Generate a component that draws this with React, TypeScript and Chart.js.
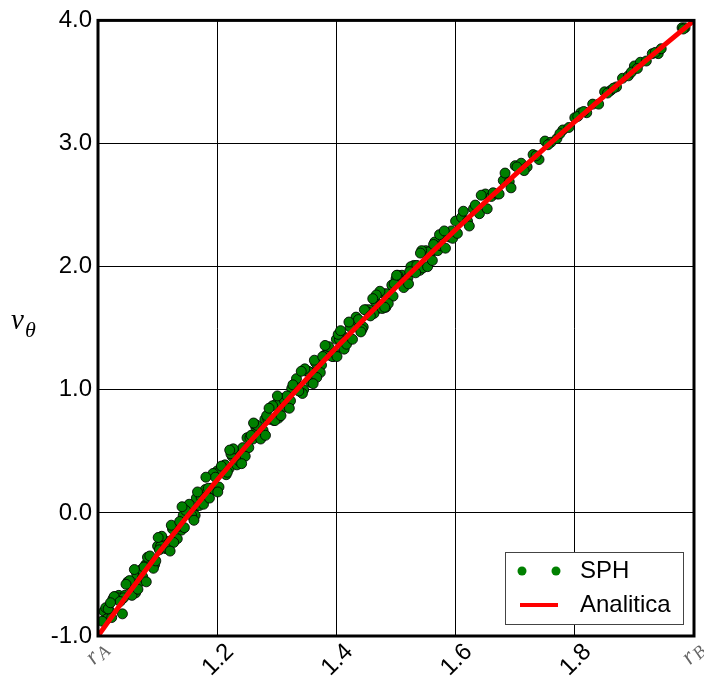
import React, { useEffect, useRef } from "react";
import { Chart, registerables } from "chart.js";

Chart.register(...registerables);

// Analytic solution samples (r, v_theta)
const analyticR = [1.0, 1.05, 1.1, 1.15, 1.2, 1.25, 1.3, 1.35, 1.4, 1.45, 1.5, 1.55, 1.6, 1.65, 1.7, 1.75, 1.8, 1.85, 1.9, 1.95, 2.0];
const analyticV = [-1.0, -0.66, -0.336, -0.028, 0.267, 0.55, 0.823, 1.087, 1.343, 1.591, 1.833, 2.069, 2.3, 2.526, 2.747, 2.964, 3.178, 3.388, 3.595, 3.799, 4.0];

// SPH particles (r, v_theta)
const sphR = [
  1.01, 1.02, 1.03, 1.04, 1.05, 1.06, 1.07, 1.08, 1.09, 1.1,
  1.11, 1.12, 1.13, 1.14, 1.15, 1.16, 1.17, 1.18, 1.19, 1.2,
  1.21, 1.22, 1.23, 1.24, 1.25, 1.26, 1.27, 1.28, 1.29, 1.3,
  1.31, 1.32, 1.33, 1.34, 1.35, 1.36, 1.37, 1.38, 1.39, 1.4,
  1.41, 1.42, 1.43, 1.44, 1.45, 1.46, 1.47, 1.48, 1.49, 1.5,
  1.51, 1.52, 1.53, 1.54, 1.55, 1.56, 1.57, 1.58, 1.59, 1.6,
  1.61, 1.62, 1.63, 1.64, 1.65, 1.66, 1.67, 1.68, 1.69, 1.7,
  1.71, 1.72, 1.73, 1.74, 1.75, 1.76, 1.77, 1.78, 1.79, 1.8,
  1.81, 1.82, 1.83, 1.84, 1.85, 1.86, 1.87, 1.88, 1.89, 1.9,
  1.91, 1.92, 1.93, 1.94, 1.98, 1.985,
  1.015, 1.025, 1.035, 1.045, 1.055, 1.065, 1.075, 1.085, 1.095, 1.105,
  1.115, 1.125, 1.135, 1.145, 1.155, 1.165, 1.175, 1.185, 1.195, 1.205,
  1.215, 1.225, 1.235, 1.245, 1.255, 1.265, 1.275, 1.285, 1.295, 1.305,
  1.315, 1.325, 1.335, 1.345, 1.355, 1.365, 1.375, 1.385, 1.395, 1.405,
  1.415, 1.425, 1.435, 1.445, 1.455, 1.465, 1.475, 1.485, 1.495, 1.505,
  1.515, 1.525, 1.535, 1.545, 1.555, 1.565, 1.575, 1.585, 1.595,
  1.013, 1.023, 1.033, 1.043, 1.053, 1.063, 1.073, 1.083, 1.093, 1.103,
  1.113, 1.123, 1.133, 1.143, 1.153, 1.163, 1.173, 1.183, 1.193, 1.203,
  1.213, 1.223, 1.233, 1.243, 1.253, 1.263, 1.273, 1.283, 1.293, 1.303,
  1.313, 1.323, 1.333, 1.343, 1.353, 1.363, 1.373, 1.383, 1.393, 1.403,
  1.413, 1.423, 1.433, 1.443, 1.453, 1.463, 1.473, 1.483, 1.493, 1.503,
  1.513, 1.523, 1.533, 1.543, 1.553, 1.563, 1.573, 1.583, 1.593, 1.603,
  1.613, 1.623, 1.633, 1.643, 1.653, 1.663, 1.673, 1.683, 1.693, 1.703,
  1.007, 1.017, 1.027, 1.037, 1.047, 1.057, 1.067, 1.077, 1.087, 1.097,
  1.107, 1.117, 1.127, 1.137, 1.147, 1.157, 1.167, 1.177, 1.187, 1.197,
  1.207, 1.217, 1.227, 1.237, 1.247, 1.257, 1.267, 1.277, 1.287, 1.297,
  1.307, 1.317, 1.327, 1.337, 1.347, 1.357, 1.367, 1.377, 1.387, 1.397,
  1.407, 1.417, 1.427, 1.437, 1.447, 1.457, 1.467, 1.477, 1.487, 1.497,
  1.715, 1.735, 1.755, 1.775, 1.805, 1.815, 1.855, 1.865, 1.895, 1.905,
  1.935, 1.945, 1.982,
  1.021, 1.041, 1.061, 1.081, 1.101, 1.121, 1.141, 1.161, 1.181, 1.201,
  1.221, 1.241, 1.261, 1.281, 1.301, 1.321, 1.341, 1.361, 1.381, 1.401,
  1.421, 1.441, 1.461, 1.481, 1.501, 1.521, 1.541, 1.561, 1.581,
];
const sphV = [
  -0.8, -0.8, -0.68, -0.7, -0.56, -0.59, -0.56, -0.42, -0.41, -0.27,
  -0.22, -0.23, -0.12, -0.14, 0.03, 0.03, 0.06, 0.19, 0.2, 0.34,
  0.37, 0.36, 0.47, 0.44, 0.61, 0.6, 0.63, 0.76, 0.76, 0.89,
  0.93, 0.91, 1.01, 0.99, 1.15, 1.14, 1.16, 1.28, 1.28, 1.41,
  1.44, 1.42, 1.52, 1.49, 1.65, 1.64, 1.66, 1.78, 1.78, 1.9,
  1.93, 1.91, 2.01, 1.97, 2.13, 2.12, 2.13, 2.25, 2.24, 2.37,
  2.4, 2.37, 2.47, 2.43, 2.59, 2.57, 2.59, 2.7, 2.69, 2.82,
  2.84, 2.81, 2.91, 2.87, 3.02, 3.01, 3.04, 3.11, 3.13, 3.21,
  3.25, 3.25, 3.32, 3.32, 3.42, 3.43, 3.46, 3.53, 3.55, 3.63,
  3.66, 3.67, 3.73, 3.73, 3.94, 3.94,
  -0.86, -0.7, -0.67, -0.67, -0.6, -0.5, -0.52, -0.41, -0.42, -0.27,
  -0.28, -0.13, -0.11, -0.12, 0.03, 0.12, 0.1, 0.2, 0.19, 0.34,
  0.31, 0.46, 0.48, 0.46, 0.61, 0.69, 0.67, 0.76, 0.75, 0.89,
  0.86, 1.01, 1.02, 1.0, 1.14, 1.22, 1.2, 1.29, 1.27, 1.41,
  1.38, 1.52, 1.53, 1.51, 1.65, 1.72, 1.69, 1.78, 1.76, 1.9,
  1.86, 2.0, 2.01, 1.99, 2.12, 2.2, 2.17, 2.25, 2.23,
  -0.77, -0.85, -0.69, -0.69, -0.55, -0.65, -0.46, -0.36, -0.45, -0.3,
  -0.29, -0.1, -0.21, -0.02, 0.07, -0.02, 0.13, 0.13, 0.32, 0.21,
  0.39, 0.48, 0.39, 0.53, 0.53, 0.72, 0.6, 0.79, 0.87, 0.77,
  0.91, 0.91, 1.09, 0.97, 1.15, 1.24, 1.14, 1.28, 1.27, 1.45,
  1.33, 1.51, 1.59, 1.49, 1.63, 1.62, 1.8, 1.67, 1.85, 1.93,
  1.83, 1.96, 1.95, 2.13, 2.0, 2.18, 2.26, 2.15, 2.29, 2.27,
  2.45, 2.33, 2.5, 2.58, 2.47, 2.6, 2.59, 2.76, 2.64, 2.81,
  -0.88, -0.78, -0.68, -0.72, -0.58, -0.67, -0.62, -0.44, -0.35, -0.39,
  -0.19, -0.29, -0.24, -0.07, 0.02, -0.02, 0.17, 0.07, 0.12, 0.29,
  0.38, 0.33, 0.52, 0.42, 0.46, 0.63, 0.71, 0.67, 0.85, 0.75,
  0.79, 0.95, 1.04, 0.99, 1.17, 1.06, 1.1, 1.27, 1.35, 1.3,
  1.48, 1.37, 1.41, 1.57, 1.65, 1.6, 1.77, 1.66, 1.7, 1.86,
  2.78, 2.9, 2.99, 3.08, 3.22, 3.26, 3.41, 3.45, 3.58, 3.61,
  3.74, 3.77, 3.93,
  -0.73, -0.82, -0.46, -0.56, -0.2, -0.31, 0.05, -0.06, 0.29, 0.17,
  0.51, 0.4, 0.73, 0.63, 0.95, 0.85, 1.15, 1.05, 1.36, 1.27,
  1.55, 1.47, 1.74, 1.67, 1.93, 1.86, 2.11, 2.05, 2.29,
];

const xTickValues = [1.0, 1.2, 1.4, 1.6, 1.8, 2.0];
const xTickLabels = ["r_A", "1.2", "1.4", "1.6", "1.8", "r_B"];
const legendLabels = ["SPH", "Analitica"];

const SANS = "'Liberation Sans', Arial, sans-serif";
const SERIF = "'Liberation Serif', 'DejaVu Serif', serif";

const decorPlugin = {
  id: "decor",
  afterDraw(chart: any) {
    const { ctx, chartArea } = chart;
    const xs = chart.scales.x;
    ctx.save();
    // frame
    ctx.strokeStyle = "#000";
    ctx.lineWidth = 3;
    ctx.strokeRect(chartArea.left, chartArea.top, chartArea.right - chartArea.left, chartArea.bottom - chartArea.top);

    // x tick labels rotated 45deg
    xTickValues.forEach((v, i) => {
      const px = xs.getPixelForValue(v);
      const lbl = xTickLabels[i];
      ctx.save();
      if (lbl.startsWith("r_")) {
        ctx.translate(px - 1, chartArea.bottom + 18);
        ctx.rotate(-Math.PI / 4);
        ctx.fillStyle = "#666";
        ctx.textBaseline = "alphabetic";
        ctx.font = `italic 24px ${SERIF}`;
        const wr = ctx.measureText("r").width;
        ctx.font = `italic 18px ${SERIF}`;
        const ws = ctx.measureText(lbl.slice(2)).width;
        const total = wr + ws;
        ctx.font = `italic 24px ${SERIF}`;
        ctx.textAlign = "left";
        ctx.fillText("r", -total / 2, 6);
        ctx.font = `italic 18px ${SERIF}`;
        ctx.fillText(lbl.slice(2), -total / 2 + wr + 1, 9);
      } else {
        ctx.translate(px + 1, chartArea.bottom + 24);
        ctx.rotate(-Math.PI / 4);
        ctx.fillStyle = "#000";
        ctx.font = `24px ${SANS}`;
        ctx.textAlign = "center";
        ctx.textBaseline = "middle";
        ctx.fillText(lbl, 0, 0);
      }
      ctx.restore();
    });

    // y axis title v_theta
    ctx.fillStyle = "#000";
    ctx.textAlign = "left";
    ctx.textBaseline = "alphabetic";
    ctx.font = `italic 29px ${SERIF}`;
    ctx.fillText("v", 11, 329);
    ctx.font = `italic 22px ${SERIF}`;
    ctx.fillText("θ", 25, 337);

    // legend
    const lx = 505, ly = 552, lw = 178, lh = 72;
    ctx.fillStyle = "#fff";
    ctx.fillRect(lx, ly, lw, lh);
    ctx.strokeStyle = "#444";
    ctx.lineWidth = 1;
    ctx.strokeRect(lx + 0.5, ly + 0.5, lw, lh);
    [522, 556].forEach((cx) => {
      ctx.beginPath();
      ctx.arc(cx, 571, 4.5, 0, Math.PI * 2);
      ctx.fillStyle = "#008000";
      ctx.fill();
    });
    ctx.strokeStyle = "#ff0000";
    ctx.lineWidth = 4;
    ctx.beginPath();
    ctx.moveTo(520, 605);
    ctx.lineTo(558, 605);
    ctx.stroke();
    ctx.fillStyle = "#000";
    ctx.font = `24px ${SANS}`;
    ctx.textBaseline = "middle";
    ctx.fillText(legendLabels[0], 580, 571);
    ctx.fillText(legendLabels[1], 580, 605);
    ctx.restore();
  },
};

export default function App() {
  const ref = useRef<HTMLCanvasElement>(null);
  useEffect(() => {
    document.body.style.margin = "0";
    const sphData = sphR.map((r, i) => ({ x: r, y: sphV[i] }));
    const lineData = analyticR.map((r, i) => ({ x: r, y: analyticV[i] }));
    const chart = new Chart(ref.current as HTMLCanvasElement, {
      type: "scatter",
      data: {
        datasets: [
          {
            label: legendLabels[1],
            data: lineData,
            showLine: true,
            borderColor: "#ff0000",
            borderWidth: 5,
            pointRadius: 0,
            order: 0,
          } as any,
          {
            label: legendLabels[0],
            data: sphData,
            backgroundColor: "#008000",
            borderColor: "rgba(0,0,0,0.85)",
            borderWidth: 1,
            pointRadius: 5,
            order: 1,
          },
        ],
      },
      options: {
        responsive: false,
        animation: false,
        events: [],
        layout: { padding: { top: 20, right: 10, left: 0, bottom: 0 } },
        plugins: { legend: { display: false }, tooltip: { enabled: false } },
        scales: {
          x: {
            type: "linear",
            min: 1,
            max: 2,
            ticks: { stepSize: 0.2, display: false },
            grid: { color: "#000", lineWidth: 1, drawTicks: false },
            border: { display: false },
            afterFit: (s: any) => {
              s.height = 41;
            },
          },
          y: {
            type: "linear",
            min: -1,
            max: 4,
            ticks: {
              stepSize: 1,
              padding: 6,
              color: "#000",
              font: { family: SANS, size: 24 },
              callback: (v: any) => Number(v).toFixed(1),
            },
            grid: { color: "#000", lineWidth: 1, drawTicks: false },
            border: { display: false },
            afterFit: (s: any) => {
              s.width = 98;
            },
          },
        },
      },
      plugins: [decorPlugin],
    });
    return () => chart.destroy();
  }, []);
  return (
    <div style={{ position: "absolute", left: 0, top: 0, width: 704, height: 677, background: "#fff" }}>
      <canvas ref={ref} width={704} height={677} />
    </div>
  );
}
